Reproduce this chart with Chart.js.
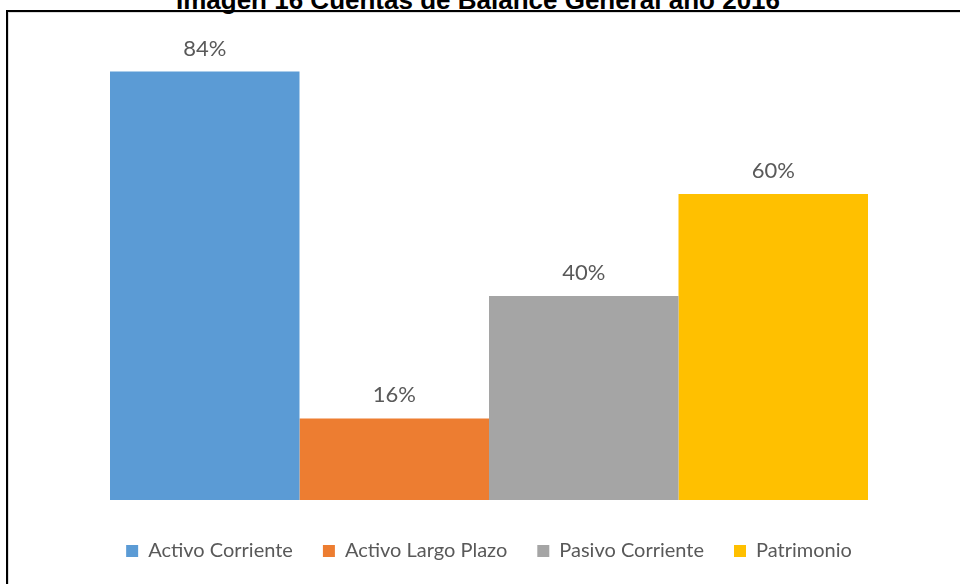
<!DOCTYPE html>
<html>
<head>
<meta charset="utf-8">
<script src="https://cdn.jsdelivr.net/npm/chart.js@4"></script>
<style>
  html, body { margin:0; padding:0; background:#fff; overflow:hidden; }
  #wrap { position:relative; width:960px; height:584px; }
  #frame { position:absolute; left:6px; top:10px; width:960px; height:600px;
           border-left:2px solid #000; border-top:2px solid #000;
           box-shadow: inset 1px 1px 0 #dcdcdc; }
  #title { position:absolute; left:0; width:956px; top:-15px; text-align:center;
           font: bold 26px "Liberation Sans", Arial, sans-serif; color:#000; }
  canvas { position:absolute; left:0; top:0; }
</style>
</head>
<body>
<div id="wrap">
  <div id="frame"></div>
  <div id="title">Imagen 16 Cuentas de Balance General año 2016</div>
  <canvas id="chart" width="960" height="584"></canvas>
</div>
<script>
// --- données ---
const cuentas  = ['Activo Corriente', 'Activo Largo Plazo', 'Pasivo Corriente', 'Patrimonio'];
const valores  = [84, 16, 40, 60];
const colores  = ['#5B9BD5', '#ED7D31', '#A5A5A5', '#FFC000'];

// étiquettes au-dessus des barres
const barLabels = {
  id:'barLabels',
  afterDatasetsDraw(chart){
    const ctx = chart.ctx;
    ctx.save();
    ctx.font = '22px Lato, "Open Sans", sans-serif';
    ctx.fillStyle = '#595959';
    ctx.textAlign = 'center';
    ctx.textBaseline = 'alphabetic';
    chart.data.datasets.forEach((ds, i) => {
      const bar = chart.getDatasetMeta(i).data[0];
      ctx.fillText(ds.data[0] + '%', bar.x, bar.y - 16);
    });
    ctx.restore();
  }
};

new Chart(document.getElementById('chart'), {
  type:'bar',
  data:{
    labels:[''],
    datasets: cuentas.map((c, i) => ({
      label:c,
      data:[valores[i]],
      backgroundColor:colores[i],
      borderWidth:0,
      barPercentage:1,
      categoryPercentage:758/938
    }))
  },
  options:{
    responsive:false,
    animation:false,
    layout:{ padding:{ left:20, right:2, top:41, bottom:13 } },
    plugins:{
      legend:{
        position:'bottom',
        // titre vide : sert juste d'espace au-dessus des items
        title:{ display:true, text:'', padding:{ top:5, bottom:5 }, font:{ size:1, lineHeight:1 } },
        labels:{
          boxWidth:12, boxHeight:12, padding:30,
          color:'#595959',
          font:{ family:'Lato, "Open Sans", sans-serif', size:20 }
        }
      },
      tooltip:{ enabled:false }
    },
    scales:{
      x:{ display:false },
      y:{ display:false, min:0, max:90 }
    }
  },
  plugins:[barLabels]
});
</script>
</body>
</html>
